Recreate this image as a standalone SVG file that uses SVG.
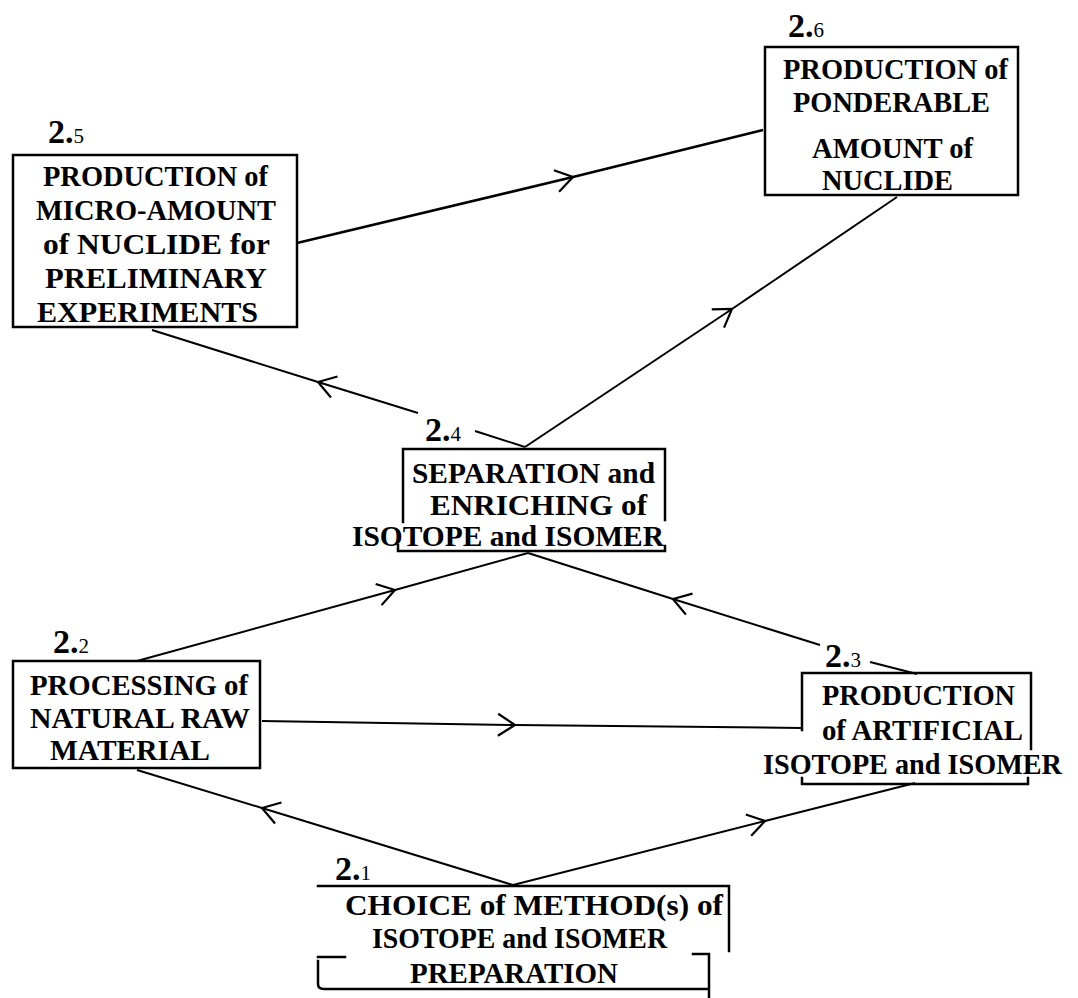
<svg xmlns="http://www.w3.org/2000/svg" width="1078" height="998" viewBox="0 0 1078 998">
<style>
.box{fill:none;stroke:#000;stroke-width:2.5;stroke-linecap:square}
.t{font-family:"Liberation Serif","Times New Roman",serif;font-weight:bold;font-size:30px;fill:#000}
.num{font-family:"Liberation Serif","Times New Roman",serif;font-weight:bold;font-size:34px;fill:#000}
.sub{font-size:21px;font-weight:normal}
.c{fill:none;stroke:#000;stroke-width:2;marker-mid:url(#ah)}
.l{fill:none;stroke:#000;stroke-width:2}
</style>
<defs>
<marker id="ah" viewBox="-20 -14 24 28" refX="0" refY="0" markerWidth="24" markerHeight="28" markerUnits="userSpaceOnUse" orient="auto" overflow="visible">
<path d="M -17 -11 L 0 0 L -17 11" fill="none" stroke="#000" stroke-width="2.2"/>
</marker>
</defs>
<rect width="1078" height="998" fill="#fff"/>
<g id="connectors">
<path class="c" d="M 297 243 L 573 177 L 763 130" style="stroke-width:2.6"/>
<path class="c" d="M 525 447 L 732 309 L 897 197"/>
<path class="l" d="M 525 447 L 475 431"/>
<path class="c" d="M 418 413 L 318 382 L 152 330"/>
<path class="c" d="M 137 661 L 395 590 L 528 553"/>
<path class="l" d="M 917 674 L 870 662"/>
<path class="c" d="M 820 645 L 673 599 L 528 553"/>
<path class="c" d="M 262 721 L 515 725 L 802 728"/>
<path class="c" d="M 513 885 L 262 808 L 137 770"/>
<path class="c" d="M 513 885 L 765 821 L 915 783"/>
</g>
<g id="node-2-5">
<rect class="box" x="13" y="155" width="284" height="172"/>
<text class="num" x="48" y="143">2.<tspan class="sub">5</tspan></text>
<text class="t" x="43" y="186" textLength="225" lengthAdjust="spacingAndGlyphs">PRODUCTION of</text>
<text class="t" x="36" y="220" textLength="240" lengthAdjust="spacingAndGlyphs">MICRO-AMOUNT</text>
<text class="t" x="43" y="254" textLength="227" lengthAdjust="spacingAndGlyphs">of NUCLIDE for</text>
<text class="t" x="45" y="288" textLength="222" lengthAdjust="spacingAndGlyphs">PRELIMINARY</text>
<text class="t" x="37" y="322" textLength="221" lengthAdjust="spacingAndGlyphs">EXPERIMENTS</text>
</g>
<g id="node-2-6">
<rect class="box" x="765" y="47" width="253" height="148"/>
<text class="num" x="788" y="37">2.<tspan class="sub">6</tspan></text>
<text class="t" x="783" y="79" textLength="225" lengthAdjust="spacingAndGlyphs">PRODUCTION of</text>
<text class="t" x="793" y="112" textLength="197" lengthAdjust="spacingAndGlyphs">PONDERABLE</text>
<text class="t" x="812" y="158" textLength="161" lengthAdjust="spacingAndGlyphs">AMOUNT of</text>
<text class="t" x="822" y="190" textLength="131" lengthAdjust="spacingAndGlyphs">NUCLIDE</text>
</g>
<g id="node-2-4">
<path class="box" d="M 403 522 L 403 449 L 665 449 L 665 520 M 398 545 L 398 551 L 665 551 L 665 546"/>
<text class="num" x="425" y="441">2.<tspan class="sub">4</tspan></text>
<text class="t" x="412" y="483" textLength="243" lengthAdjust="spacingAndGlyphs">SEPARATION and</text>
<text class="t" x="430" y="515" textLength="217" lengthAdjust="spacingAndGlyphs">ENRICHING of</text>
<text class="t" x="352" y="546" textLength="312" lengthAdjust="spacingAndGlyphs">ISOTOPE and ISOMER</text>
</g>
<g id="node-2-2">
<rect class="box" x="13" y="661" width="247" height="107"/>
<text class="num" x="53" y="653">2.<tspan class="sub">2</tspan></text>
<text class="t" x="30" y="695" textLength="218" lengthAdjust="spacingAndGlyphs">PROCESSING of</text>
<text class="t" x="30" y="728" textLength="220" lengthAdjust="spacingAndGlyphs">NATURAL RAW</text>
<text class="t" x="50" y="760" textLength="160" lengthAdjust="spacingAndGlyphs">MATERIAL</text>
</g>
<g id="node-2-3">
<path class="box" d="M 802 730 L 802 673 L 1031 673 L 1031 749 M 802 778 L 802 784 L 1028 784 L 1028 778"/>
<text class="num" x="825" y="667">2.<tspan class="sub">3</tspan></text>
<text class="t" x="822" y="705" textLength="193" lengthAdjust="spacingAndGlyphs">PRODUCTION</text>
<text class="t" x="822" y="740" textLength="201" lengthAdjust="spacingAndGlyphs">of ARTIFICIAL</text>
<text class="t" x="763" y="774" textLength="299" lengthAdjust="spacingAndGlyphs">ISOTOPE and ISOMER</text>
</g>
<g id="node-2-1">
<path class="box" d="M 318 886 L 729 886 L 729 951 M 693 954 L 709 954 L 709 997 M 318 957 L 345 957 M 318 961 L 318 984 Q 318 989 324 989 L 708 989"/>
<text class="num" x="335" y="880">2.<tspan class="sub">1</tspan></text>
<text class="t" x="345" y="915" textLength="378" lengthAdjust="spacingAndGlyphs">CHOICE of METHOD(s) of</text>
<text class="t" x="372" y="948" textLength="295" lengthAdjust="spacingAndGlyphs">ISOTOPE and ISOMER</text>
<text class="t" x="410" y="983" textLength="208" lengthAdjust="spacingAndGlyphs">PREPARATION</text>
</g>
</svg>
